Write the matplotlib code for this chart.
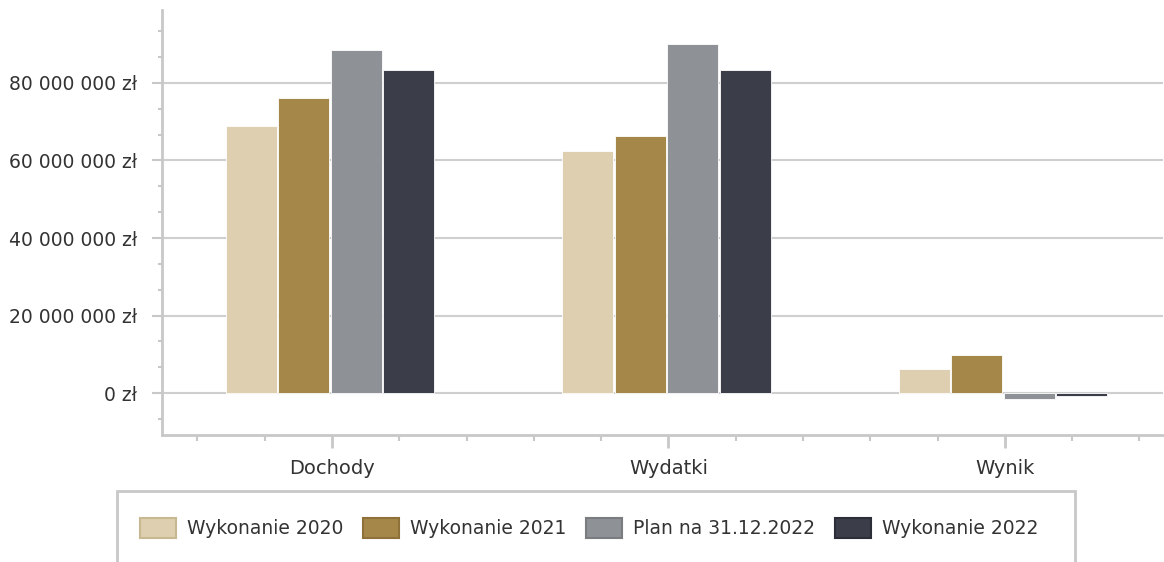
import matplotlib
matplotlib.use("Agg")
import matplotlib.pyplot as plt
from matplotlib.patches import Patch, Rectangle
from matplotlib.ticker import FuncFormatter, MultipleLocator
import numpy as np

categories = ["Dochody", "Wydatki", "Wynik"]
series_names = ["Wykonanie 2020", "Wykonanie 2021", "Plan na 31.12.2022", "Wykonanie 2022"]
v2020 = [68.9e6, 62.5e6, 6.3e6]
v2021 = [76.1e6, 66.3e6, 9.8e6]
plan2022 = [88.5e6, 90.1e6, -1.6e6]
v2022 = [83.4e6, 83.4e6, -0.7e6]
series = [v2020, v2021, plan2022, v2022]

colors = ["#DDCFB0", "#A6874A", "#8E9195", "#3B3D49"]
edge_colors = ["#C7B891", "#8E7138", "#7A7D80", "#2C2E37"]
text_color = "#333333"
grid_color = "#CFCFCF"

plt.rcParams['font.family'] = ['DejaVu Sans']
fig = plt.figure(figsize=(11.64, 5.62), dpi=100)
ax = fig.add_axes([162/1164, 1-435/562, (1163-162)/1164, (435-10)/562])

x = np.arange(len(categories))
w = 0.152
offsets = np.array([-1.5, -0.5, 0.5, 1.5]) * (w + 0.004)
for i, vals in enumerate(series):
    ax.bar(x + offsets[i] - 0.006, vals, width=w, color=colors[i], edgecolor="white",
           linewidth=0.6, zorder=3)

ax.set_xlim(-0.505, 2.47)
ax.set_ylim(-10.8e6, 98.8e6)

ax.yaxis.set_major_locator(MultipleLocator(20e6))
ax.yaxis.set_minor_locator(MultipleLocator(20e6/3))
def fmt(v, pos):
    return f"{int(round(v)):,}".replace(",", " ") + " zł"
ax.yaxis.set_major_formatter(FuncFormatter(fmt))

ax.set_xticks(x)
ax.set_xticklabels(categories)
ax.set_xticks(np.arange(-0.4, 2.45, 0.2), minor=True)

ax.grid(axis="y", which="major", color=grid_color, linewidth=1.5, zorder=0)
for s in ["top", "right"]:
    ax.spines[s].set_visible(False)
for s in ["left", "bottom"]:
    ax.spines[s].set_color("#C8C8C8")
    ax.spines[s].set_linewidth(2)

ax.tick_params(axis="y", which="major", length=7, width=1.5, color="#C8C8C8",
               labelsize=13.5, labelcolor=text_color, pad=11)
ax.tick_params(axis="y", which="minor", length=3, width=1.5, color="#C8C8C8")
ax.tick_params(axis="x", which="major", length=9, width=2, color="#C8C8C8",
               labelsize=14, labelcolor=text_color, pad=8)
ax.tick_params(axis="x", which="minor", length=4, width=1.5, color="#C8C8C8")

handles = [Patch(facecolor=colors[i], edgecolor=edge_colors[i], linewidth=1.5,
                 label=series_names[i]) for i in range(4)]
leg = fig.legend(handles=handles, ncol=4, loc="center", bbox_to_anchor=(589/1164, 1-528/562),
                 frameon=False, fontsize=13.5, handlelength=1.92, handleheight=1.28,
                 handletextpad=0.59, columnspacing=1.05, labelcolor=text_color)

fig.patches.append(Rectangle((117/1164, -0.05), (1075-117)/1164, 0.05 + 1 - 491/562,
                             transform=fig.transFigure, fill=False, edgecolor="#C8C8C8",
                             linewidth=2))

fig.savefig("out.png", dpi=100)
